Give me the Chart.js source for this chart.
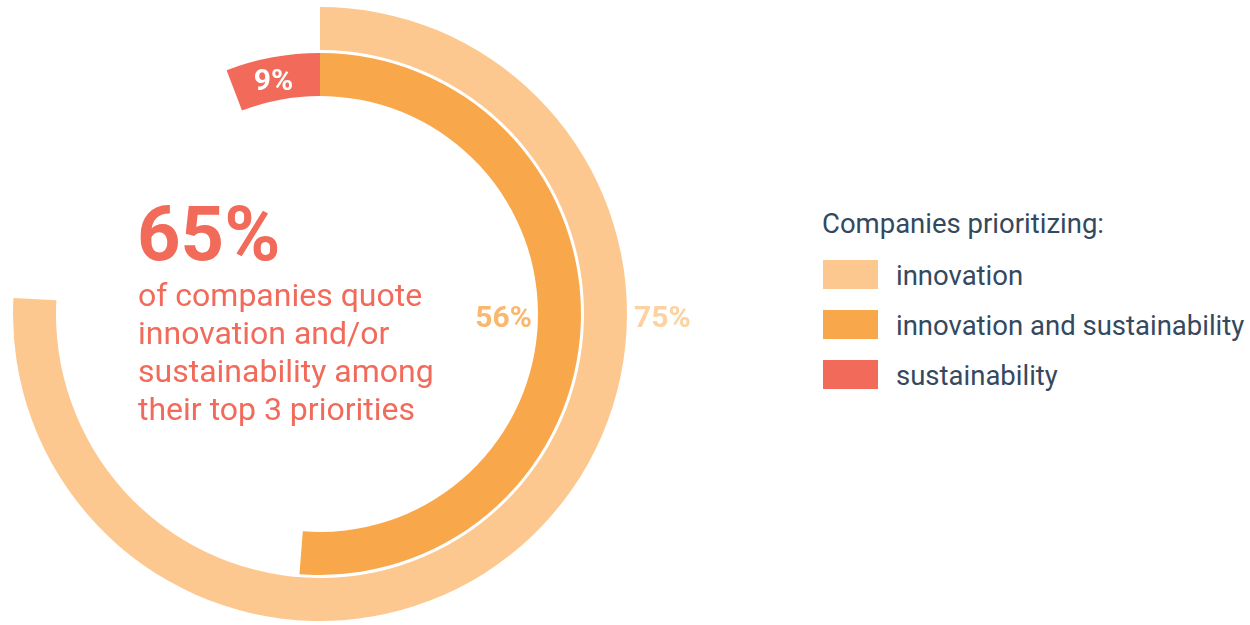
<!DOCTYPE html>
<html>
<head>
<meta charset="utf-8">
<script src="https://cdn.jsdelivr.net/npm/chart.js@4.4.1/dist/chart.umd.min.js"></script>
<style>
  html, body { margin: 0; padding: 0; background: #fff; }
  body { width: 1250px; height: 625px; position: relative; overflow: hidden; font-family: Roboto, "Noto Sans", sans-serif; }
  .ring { position: absolute; left: 13px; top: 7px; width: 734px; height: 614px; }
  #headline { position: absolute; left: 138px; top: 194px; color: #f26a5a; }
  #headline .big { font-size: 76px; font-weight: 700; line-height: 80px; margin-left: -1px; }
  #headline .lines { margin-top: 2px; }
  #headline .small { font-size: 32px; line-height: 38px; }
  #legend { position: absolute; left: 822px; top: 206px; color: #34495e; }
  #legend .title { font-size: 27.5px; line-height: 36px; margin-bottom: 17px; }
  #legend .item { display: flex; align-items: center; height: 30px; margin-bottom: 20px; font-size: 27.5px; }
  #legend .box { width: 55px; height: 29px; margin-left: 1px; margin-right: 18px; }
  #legend .item span { position: relative; top: 1px; }
</style>
</head>
<body>
<div class="ring"><canvas id="mainRing"></canvas></div>
<div class="ring"><canvas id="redRing"></canvas></div>
<div id="headline"></div>
<div id="legend"></div>
<script>
// values from the chart
const categories = ['innovation', 'innovation and sustainability', 'sustainability'];
const shares = [75, 56, 9];
const colors = ['#fdc890', '#f9a74b', '#f26a5a'];
const labelColors = ['#fdd1a0', '#f9b86e', '#ffffff'];
const headline = '65%';
const headlineLines = ['of companies quote', 'innovation and/or', 'sustainability among', 'their top 3 priorities'];
const legendTitle = 'Companies prioritizing:';

// the original drawing is not to scale, degrees per percent for each arc
const degPerPct = [3.64, 3.295, 2.33];

const ringWeight = 43;
const gapWeight = 3;

// headline text and legend
const hl = document.getElementById('headline');
hl.innerHTML = '<div class="big">' + headline + '</div><div class="lines">' +
  headlineLines.map(l => '<div class="small">' + l + '</div>').join('') + '</div>';

const lg = document.getElementById('legend');
lg.innerHTML = '<div class="title">' + legendTitle + '</div>' +
  categories.map((c, i) => '<div class="item"><div class="box" style="background:' + colors[i] + '"></div><span>' + c + '</span></div>').join('');

const labelPlugin = {
  id: 'arcLabels',
  afterDatasetsDraw(chart) {
    const ctx = chart.ctx;
    ctx.save();
    ctx.font = 'bold 30px Roboto';
    ctx.textBaseline = 'middle';
    chart.data.datasets.forEach((ds, di) => {
      if (ds.valueIndex === undefined) return;
      const arc = chart.getDatasetMeta(di).data[0];
      const i = ds.valueIndex;
      const txt = shares[i] + '%';
      ctx.fillStyle = labelColors[i];
      if (ds.labelPos === 'outside') {
        ctx.textAlign = 'left';
        ctx.fillText(txt, arc.x + arc.outerRadius + 7, arc.y + 5);
      } else if (ds.labelPos === 'inside') {
        ctx.textAlign = 'right';
        ctx.fillText(txt, arc.x + arc.innerRadius - 6, arc.y + 5);
      } else {
        const p = arc.tooltipPosition();
        ctx.textAlign = 'center';
        ctx.fillText(txt, p.x - 3, p.y + 4);
      }
    });
    ctx.restore();
  }
};

const baseOptions = {
  responsive: true,
  maintainAspectRatio: false,
  animation: false,
  events: [],
  cutout: '71%',
  layout: {padding: {right: 120}},
  elements: {arc: {borderWidth: 0}},
  plugins: {legend: {display: false}, tooltip: {enabled: false}}
};

new Chart(document.getElementById('mainRing'), {
  type: 'doughnut',
  data: {
    datasets: [
      {data: [shares[0]], backgroundColor: colors[0], rotation: 0, circumference: shares[0] * degPerPct[0], weight: ringWeight, valueIndex: 0, labelPos: 'outside'},
      {data: [1], backgroundColor: 'rgba(0,0,0,0)', circumference: 360, weight: gapWeight},
      {data: [shares[1]], backgroundColor: colors[1], rotation: 0, circumference: shares[1] * degPerPct[1], weight: ringWeight, valueIndex: 1, labelPos: 'inside'}
    ]
  },
  options: baseOptions,
  plugins: [labelPlugin]
});

new Chart(document.getElementById('redRing'), {
  type: 'doughnut',
  data: {
    datasets: [
      {data: [1], backgroundColor: 'rgba(0,0,0,0)', circumference: 360, weight: ringWeight},
      {data: [1], backgroundColor: 'rgba(0,0,0,0)', circumference: 360, weight: gapWeight},
      {data: [shares[2]], backgroundColor: colors[2], rotation: -shares[2] * degPerPct[2], circumference: shares[2] * degPerPct[2], weight: ringWeight, valueIndex: 2, labelPos: 'center'}
    ]
  },
  options: baseOptions,
  plugins: [labelPlugin]
});
</script>
</body>
</html>
